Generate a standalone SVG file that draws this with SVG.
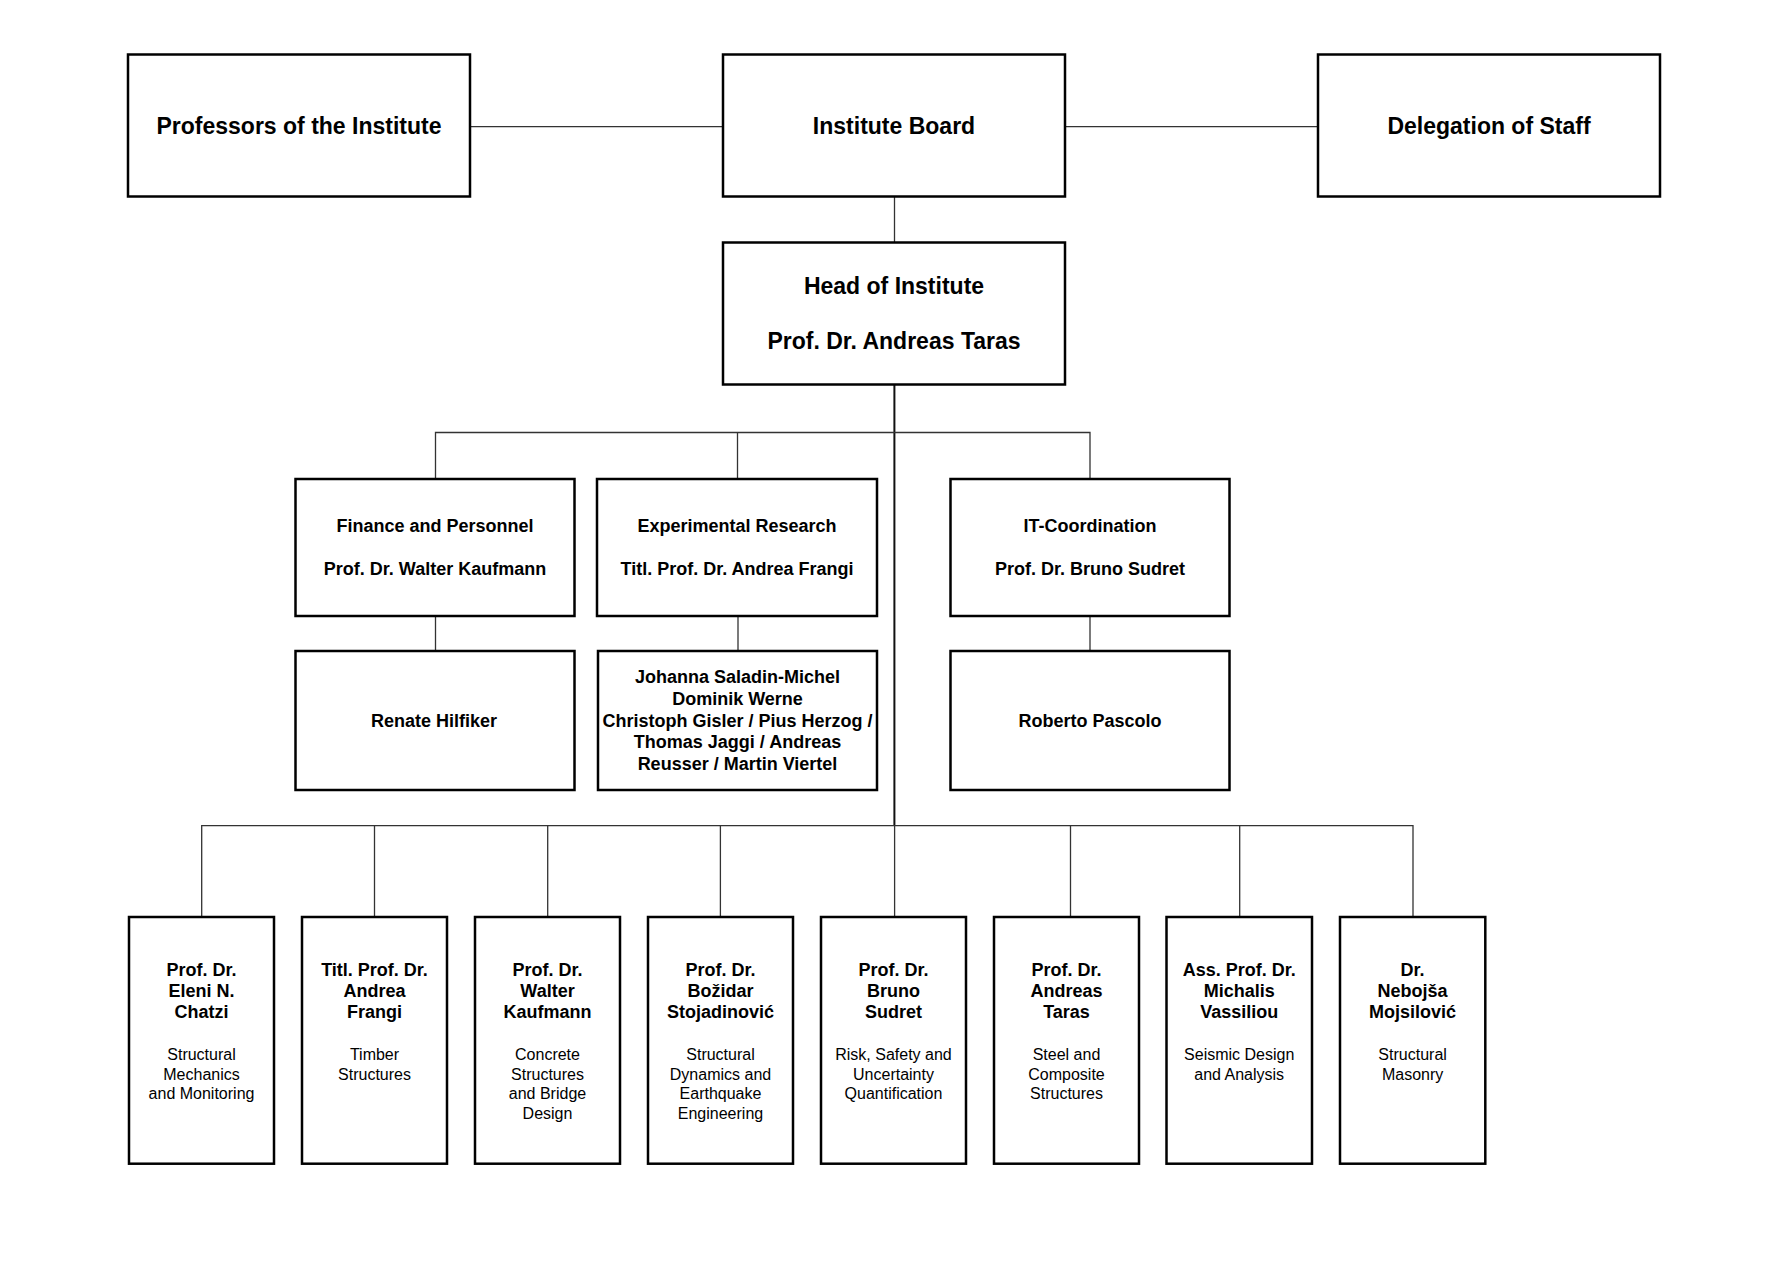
<svg xmlns="http://www.w3.org/2000/svg" width="1791" height="1266" viewBox="0 0 1791 1266">
<style>
.box{fill:#fff;stroke:#000;stroke-width:2.5}
.con{stroke:#333;stroke-width:1.3;fill:none}
.main{stroke:#111;stroke-width:2;fill:none}
text{font-family:"Liberation Sans",Arial,sans-serif;fill:#000;text-anchor:middle}
.t1{font-size:23px;font-weight:bold}
.t2{font-size:18px;font-weight:bold}
.t3{font-size:16px}
</style>
<rect width="1791" height="1266" fill="#fff"/>
<g id="connectors">
<line class="con" x1="470" y1="126.7" x2="723" y2="126.7"/>
<line class="con" x1="1065" y1="126.7" x2="1318" y2="126.7"/>
<line class="con" x1="894.5" y1="196.5" x2="894.5" y2="242"/>
<line class="main" x1="894.4" y1="384.7" x2="894.4" y2="825.7"/>
<polyline class="con" points="435.5,479 435.5,432.5 1090,432.5 1090,479"/>
<line class="con" x1="737.5" y1="432.5" x2="737.5" y2="479"/>
<line class="con" x1="435.5" y1="616" x2="435.5" y2="651"/>
<line class="con" x1="738" y1="616" x2="738" y2="651"/>
<line class="con" x1="1090" y1="616" x2="1090" y2="651"/>
<polyline class="con" points="201.7,917 201.7,825.7 1413,825.7 1413,917"/>
<line class="con" x1="374.5" y1="825.7" x2="374.5" y2="917"/>
<line class="con" x1="547.7" y1="825.7" x2="547.7" y2="917"/>
<line class="con" x1="720.4" y1="825.7" x2="720.4" y2="917"/>
<line class="con" x1="894.6" y1="825.7" x2="894.6" y2="917"/>
<line class="con" x1="1070.5" y1="825.7" x2="1070.5" y2="917"/>
<line class="con" x1="1239.7" y1="825.7" x2="1239.7" y2="917"/>
</g>
<g id="professors"><rect class="box" x="128" y="54.5" width="342" height="142"/><text class="t1" x="299" y="134.3">Professors of the Institute</text></g>
<g id="board"><rect class="box" x="723" y="54.5" width="342" height="142"/><text class="t1" x="894" y="134.3">Institute Board</text></g>
<g id="delegation"><rect class="box" x="1318" y="54.5" width="342" height="142"/><text class="t1" x="1489" y="134.3">Delegation of Staff</text></g>
<g id="head"><rect class="box" x="723" y="242.5" width="342" height="142"/><text class="t1" x="894" y="294">Head of Institute</text><text class="t1" x="894" y="348.5">Prof. Dr. Andreas Taras</text></g>
<g id="finance"><rect class="box" x="295.5" y="479" width="279" height="137"/><text class="t2" x="435" y="531.7">Finance and Personnel</text><text class="t2" x="435" y="575">Prof. Dr. Walter Kaufmann</text></g>
<g id="experimental"><rect class="box" x="597" y="479" width="280" height="137"/><text class="t2" x="737" y="531.7">Experimental Research</text><text class="t2" x="737" y="575">Titl. Prof. Dr. Andrea Frangi</text></g>
<g id="it"><rect class="box" x="950.5" y="479" width="279" height="137"/><text class="t2" x="1090" y="531.7">IT-Coordination</text><text class="t2" x="1090" y="575">Prof. Dr. Bruno Sudret</text></g>
<g id="renate"><rect class="box" x="295.5" y="651" width="279" height="139"/><text class="t2" x="434" y="726.7">Renate Hilfiker</text></g>
<g id="staff"><rect class="box" x="598" y="651" width="279" height="139"/><text class="t2" x="737.5" y="683.3">Johanna Saladin-Michel</text><text class="t2" x="737.5" y="705">Dominik Werne</text><text class="t2" x="737.5" y="726.6">Christoph Gisler / Pius Herzog /</text><text class="t2" x="737.5" y="748.2">Thomas Jaggi / Andreas</text><text class="t2" x="737.5" y="769.5">Reusser / Martin Viertel</text></g>
<g id="roberto"><rect class="box" x="950.5" y="651" width="279" height="139"/><text class="t2" x="1090" y="726.7">Roberto Pascolo</text></g>
<g id="chatzi"><rect class="box" x="129" y="917" width="145" height="246.7"/><text class="t2" x="201.5" y="976">Prof. Dr.</text><text class="t2" x="201.5" y="997.2">Eleni N.</text><text class="t2" x="201.5" y="1018.4">Chatzi</text><text class="t3" x="201.5" y="1060">Structural</text><text class="t3" x="201.5" y="1079.5">Mechanics</text><text class="t3" x="201.5" y="1099">and Monitoring</text></g>
<g id="frangi"><rect class="box" x="302" y="917" width="145" height="246.7"/><text class="t2" x="374.5" y="976">Titl. Prof. Dr.</text><text class="t2" x="374.5" y="997.2">Andrea</text><text class="t2" x="374.5" y="1018.4">Frangi</text><text class="t3" x="374.5" y="1060">Timber</text><text class="t3" x="374.5" y="1079.5">Structures</text></g>
<g id="kaufmann"><rect class="box" x="475" y="917" width="145" height="246.7"/><text class="t2" x="547.5" y="976">Prof. Dr.</text><text class="t2" x="547.5" y="997.2">Walter</text><text class="t2" x="547.5" y="1018.4">Kaufmann</text><text class="t3" x="547.5" y="1060">Concrete</text><text class="t3" x="547.5" y="1079.5">Structures</text><text class="t3" x="547.5" y="1099">and Bridge</text><text class="t3" x="547.5" y="1118.5">Design</text></g>
<g id="stojadinovic"><rect class="box" x="648" y="917" width="145" height="246.7"/><text class="t2" x="720.5" y="976">Prof. Dr.</text><text class="t2" x="720.5" y="997.2">Božidar</text><text class="t2" x="720.5" y="1018.4">Stojadinović</text><text class="t3" x="720.5" y="1060">Structural</text><text class="t3" x="720.5" y="1079.5">Dynamics and</text><text class="t3" x="720.5" y="1099">Earthquake</text><text class="t3" x="720.5" y="1118.5">Engineering</text></g>
<g id="sudret"><rect class="box" x="821" y="917" width="145" height="246.7"/><text class="t2" x="893.5" y="976">Prof. Dr.</text><text class="t2" x="893.5" y="997.2">Bruno</text><text class="t2" x="893.5" y="1018.4">Sudret</text><text class="t3" x="893.5" y="1060">Risk, Safety and</text><text class="t3" x="893.5" y="1079.5">Uncertainty</text><text class="t3" x="893.5" y="1099">Quantification</text></g>
<g id="taras"><rect class="box" x="994" y="917" width="145" height="246.7"/><text class="t2" x="1066.5" y="976">Prof. Dr.</text><text class="t2" x="1066.5" y="997.2">Andreas</text><text class="t2" x="1066.5" y="1018.4">Taras</text><text class="t3" x="1066.5" y="1060">Steel and</text><text class="t3" x="1066.5" y="1079.5">Composite</text><text class="t3" x="1066.5" y="1099">Structures</text></g>
<g id="vassiliou"><rect class="box" x="1166.5" y="917" width="145.5" height="246.7"/><text class="t2" x="1239.2" y="976">Ass. Prof. Dr.</text><text class="t2" x="1239.2" y="997.2">Michalis</text><text class="t2" x="1239.2" y="1018.4">Vassiliou</text><text class="t3" x="1239.2" y="1060">Seismic Design</text><text class="t3" x="1239.2" y="1079.5">and Analysis</text></g>
<g id="mojsilovic"><rect class="box" x="1340" y="917" width="145.3" height="246.7"/><text class="t2" x="1412.6" y="976">Dr.</text><text class="t2" x="1412.6" y="997.2">Nebojša</text><text class="t2" x="1412.6" y="1018.4">Mojsilović</text><text class="t3" x="1412.6" y="1060">Structural</text><text class="t3" x="1412.6" y="1079.5">Masonry</text></g>
</svg>
